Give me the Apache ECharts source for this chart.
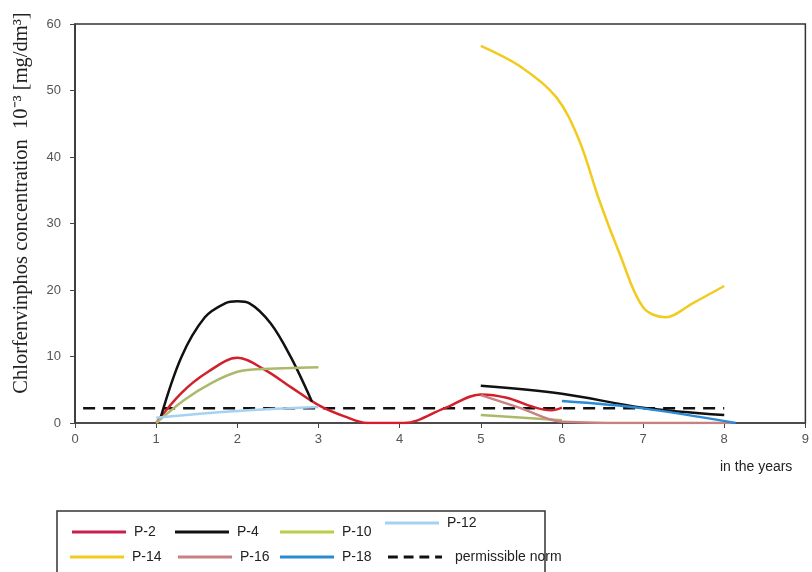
<!DOCTYPE html>
<html>
<head>
<meta charset="utf-8">
<script src="https://cdn.jsdelivr.net/npm/echarts@6/dist/echarts.min.js"></script>
<style>
  html, body { margin: 0; padding: 0; background: #fff; }
  #chart { width: 812px; height: 572px; }
</style>
</head>
<body>
<div id="chart"></div>
<script>
// points, [year, value]; null breaks a line
var p2 = [[1, 0], [1.31, 4.5], [1.64, 7.7], [2, 9.8], [2.34, 8], [2.66, 5.4], [3, 2.7],
  [3.32, 1], [3.6, 0], [4.05, 0], [4.55, 2.2], [5, 4.3], [5.32, 3.8], [5.65, 2.4], [5.87, 1.9], [6, 2.3]]
var p4 = [[1.05, 0.6], [1.31, 9.9], [1.6, 15.9], [1.85, 18], [2, 18.3], [2.15, 18], [2.41, 15], [2.66, 9.9], [2.92, 3.2],
  [4, null], [5, 5.6], [6, 4.4], [7, 2.3], [8, 1.2]]
var p10 = [[1, 0], [1.35, 3.5], [1.68, 6], [2, 7.7], [2.25, 8.1], [3, 8.4], [4, null], [5, 1.2], [6, 0.4]]
var p12 = [[1, 0.8], [2, 1.8], [3, 2.4]]
var p14 = [[5, 56.7], [5.5, 53.5], [5.93, 49], [6.21, 42.6], [6.46, 33.5], [6.71, 25.5], [7, 17.4], [7.28, 15.9], [7.61, 18], [8, 20.6]]
var p16 = [[5, 4.2], [5.5, 2.2], [6, 0.2], [7, 0], [8.1, 0]]
var p18 = [[6, 3.3], [7, 2.2], [8.14, 0]]
var norm = [[0.1, 2.2], [8, 2.2]]

var names = ['P-2', 'P-4', 'P-10', 'P-12', 'P-14', 'P-16', 'P-18', 'permissible norm']
var colors = ['#d21f2b', '#111111', '#adb96a', '#a6d2f2', '#f2cb1f', '#c88080', '#2a8ad4', '#111111']
var keyColors = ['#c8204e', '#111111', '#b9cd47', '#a6d2f2', '#f2cb1f', '#c88080', '#2a8ad4', '#111111']
var lines = [p2, p4, p10, p12, p14, p16, p18, norm]

var chart = echarts.init(document.getElementById('chart'))

var series = lines.map(function (d, i) {
  var isNorm = i === 7
  return {
    name: names[i],
    type: 'line',
    data: d,
    symbol: 'none',
    smooth: isNorm ? false : 0.35,
    connectNulls: false,
    color: colors[i],
    lineStyle: {
      color: colors[i],
      width: 2.5,
      type: isNorm ? [12, 8] : 'solid'
    },
    z: isNorm ? 1 : 2
  }
})

var dashIcon = 'path://M0,0h10v3h-10z M16,0h10v3h-10z M32,0h10v3h-10z M48,0h7v3h-7z'

// one legend per entry so the columns line up like the boxed key
var legendLeft = [72, 175, 280, 385, 70, 178, 280, 388]
var legendTop = [525, 525, 525, 516, 550, 550, 550, 550]
var legends = names.map(function (n, i) {
  var isNorm = n === 'permissible norm'
  return {
    data: [{ name: n, icon: isNorm ? dashIcon : 'rect', itemStyle: { color: keyColors[i] } }],
    left: legendLeft[i],
    top: legendTop[i],
    padding: 0,
    itemWidth: 54,
    itemHeight: 3,
    formatter: isNorm ? '{b|{name}}' : '{a|{name}}',
    textStyle: {
      fontFamily: 'Liberation Sans, Arial',
      fontSize: 14,
      color: '#222',
      rich: {
        a: { padding: [0, 0, 0, 3], fontSize: 14, color: '#222' },
        b: { padding: [0, 0, 0, 8], fontSize: 14, color: '#222' }
      }
    }
  }
})

var option = {
  animation: false,
  grid: {
    left: 75,
    top: 24,
    right: 3,
    bottom: 149,
    show: true,
    borderColor: '#333',
    borderWidth: 1.5
  },
  xAxis: {
    type: 'value',
    min: 0,
    max: 9,
    interval: 1,
    axisLine: { lineStyle: { color: '#444', width: 1.5 } },
    axisTick: { show: true, length: 5, lineStyle: { color: '#444' } },
    axisLabel: { color: '#555', fontSize: 13, fontFamily: 'Liberation Sans, Arial', margin: 10 },
    splitLine: { show: false }
  },
  yAxis: {
    type: 'value',
    min: 0,
    max: 60,
    interval: 10,
    axisLine: { show: true, lineStyle: { color: '#333', width: 1.5 } },
    axisTick: { show: true, length: 5, lineStyle: { color: '#444' } },
    axisLabel: { color: '#555', fontSize: 13, fontFamily: 'Liberation Sans, Arial', margin: 14 },
    splitLine: { show: false }
  },
  legend: legends,
  graphic: [{
    type: 'text',
    x: 22,
    y: 203,
    rotation: Math.PI / 2,
    style: {
      text: 'Chlorfenvinphos concentration  10⁻³ [mg/dm³]',
      font: '20.5px "Liberation Serif", "Times New Roman", serif',
      fill: '#222',
      textAlign: 'center',
      textVerticalAlign: 'middle'
    }
  }, {
    type: 'text',
    x: 720,
    y: 467,
    style: {
      text: 'in the years',
      font: '14px "Liberation Sans", Arial',
      fill: '#222',
      textVerticalAlign: 'middle'
    }
  }, {
    type: 'rect',
    shape: { x: 57, y: 511, width: 488, height: 80 },
    style: { fill: 'none', stroke: '#333', lineWidth: 1.5 }
  }],
  series: series
}

chart.setOption(option)
</script>
</body>
</html>
